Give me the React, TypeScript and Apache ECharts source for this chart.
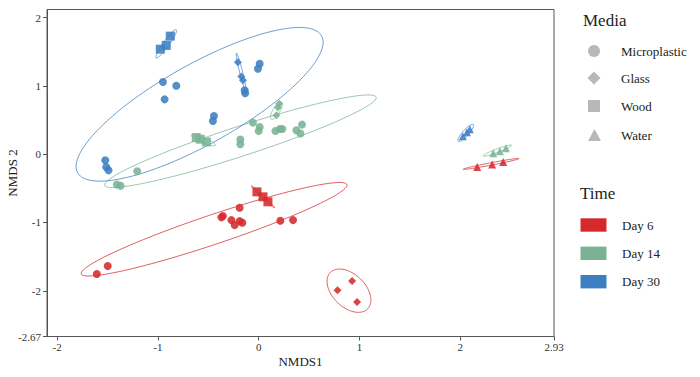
import React, { useEffect, useRef } from "react";
import * as echarts from "echarts";

// ---- axis ticks ----
const xTicks = [-2, -1, 0, 1, 2, 2.93];
const yTicks = [-2.67, -2, -1, 0, 1, 2];

// ---- legend ----
const mediaNames = ["Microplastic", "Glass", "Wood", "Water"];
const timeNames = ["Day 6", "Day 14", "Day 30"];
const timeColors = ["#d42a2e", "#7ab394", "#3c7fc0"];

// ---- points [NMDS1, NMDS2] ----
const day6Microplastic = [
  [-0.355, -0.906], [-0.37, -0.925], [-0.189, -0.785], [-0.271, -0.965], [-0.238, -1.038],
  [-0.189, -0.98], [-0.162, -1.004], [0.215, -0.975], [0.341, -0.965], [-1.497, -1.637], [-1.606, -1.754],
];
const day6Glass = [[0.927, -1.857], [0.782, -1.993], [0.976, -2.164]];
const day6Wood = [[-0.017, -0.551], [0.043, -0.624], [0.092, -0.697]];
const day6Water = [[2.168, -0.186], [2.317, -0.151], [2.426, -0.113]];

const day14Microplastic = [
  [-0.057, 0.463], [0.01, 0.399], [0.0, 0.341], [-0.182, 0.215], [-0.182, 0.146], [0.166, 0.341],
  [0.209, 0.37], [0.235, 0.37], [0.374, 0.351], [0.43, 0.434], [0.414, 0.303], [-1.205, -0.249],
  [-1.407, -0.443], [-1.37, -0.463],
];
const day14Glass = [[0.176, 0.57], [0.192, 0.683], [0.205, 0.74]];
const day14Wood = [[-0.619, 0.244], [-0.58, 0.22], [-0.519, 0.18]];
const day14Water = [[2.327, 0.015], [2.393, 0.044], [2.453, 0.088]];

const day30Microplastic = [
  [-0.95, 1.057], [-0.817, 1.004], [-0.933, 0.804], [0.01, 1.326], [-0.007, 1.253], [-0.139, 0.936],
  [-0.134, 0.892], [-0.444, 0.56], [-0.454, 0.487], [-1.522, -0.088], [-1.512, -0.186], [-1.49, -0.234],
];
const day30Glass = [[-0.206, 1.349], [-0.172, 1.14], [-0.156, 1.082]];
const day30Wood = [[-0.877, 1.73], [-0.917, 1.594], [-0.976, 1.539]];
const day30Water = [[2.026, 0.263], [2.066, 0.322], [2.095, 0.365]];

// ---- confidence ellipses [cx, cy, ux, uy, vx, vy] (data units) ----
const day6Ellipses = [
  [-0.442, -1.099, 1.318, 0.654, 0.0466, -0.204],
  [0.896, -1.999, 0.185, -0.2665, -0.1145, -0.1722],
  [0.043, -0.624, 0.1157, -0.1608, -0.0081, -0.0127],
  [2.306, -0.142, 0.2766, 0.0782, 0.0023, -0.0173],
];
const day14Ellipses = [
  [-0.181, 0.19, 1.347, 0.646, 0.0458, -0.207],
  [2.368, 0.053, 0.141, 0.0782, 0.0063, -0.0246],
  [0.176, 0.638, 0.0497, 0.1265, 0.0301, -0.0256],
  [-0.548, 0.205, 0.1207, -0.0731, -0.0094, -0.0338],
];
const day30Ellipses = [
  [-0.586, 0.731, 1.21, 1.004, 0.195, -0.509],
  [2.054, 0.312, 0.0745, 0.122, 0.0221, -0.0293],
  [-0.175, 1.208, 0.0462, -0.2727, -0.01445, -0.0053],
  [-0.917, 1.618, 0.0993, 0.2047, 0.0242, -0.0254],
];

const FONT = "Liberation Serif";
const GRAY = "#b8b8b8";

export default function App() {
  const ref = useRef<HTMLDivElement>(null);

  useEffect(() => {
    if (!ref.current) return;
    const chart = echarts.init(ref.current, undefined, { renderer: "svg" });

    const groups = [
      [day6Microplastic, day6Glass, day6Wood, day6Water],
      [day14Microplastic, day14Glass, day14Wood, day14Water],
      [day30Microplastic, day30Glass, day30Wood, day30Water],
    ];
    const ellipses = [day6Ellipses, day14Ellipses, day30Ellipses];
    const symbols = ["circle", "diamond", "rect", "triangle"];
    const sizes = [8, 8, 9, 8];

    const series: any[] = [];
    ellipses.forEach((ell, ti) => {
      series.push({
        type: "custom",
        name: timeNames[ti] + " ellipse",
        data: ell,
        dimensions: ["cx", "cy", "ux", "uy", "vx", "vy"],
        encode: { x: 0, y: 1 },
        silent: true,
        z: 1,
        renderItem: (params: any, api: any) => {
          const cx = api.value(0), cy = api.value(1);
          const ux = api.value(2), uy = api.value(3);
          const vx = api.value(4), vy = api.value(5);
          const pts: number[][] = [];
          const N = 120;
          for (let i = 0; i <= N; i++) {
            const t = (i / N) * Math.PI * 2;
            const c = Math.cos(t), s = Math.sin(t);
            pts.push(api.coord([cx + ux * c + vx * s, cy + uy * c + vy * s]));
          }
          return {
            type: "polygon",
            shape: { points: pts },
            style: { fill: "none", stroke: timeColors[ti], lineWidth: 1, opacity: 0.75 },
          };
        },
      });
    });
    groups.forEach((g, ti) => {
      g.forEach((pts, mi) => {
        series.push({
          type: "scatter",
          name: timeNames[ti] + " " + mediaNames[mi],
          data: pts,
          symbol: symbols[mi],
          symbolSize: sizes[mi],
          itemStyle: { color: timeColors[ti], opacity: 0.88 },
          z: 3,
        });
      });
    });

    const legendGraphics: any[] = [
      { type: "text", left: 583, top: 12, style: { text: "Media", font: `17px '${FONT}'`, fill: "#222" } },
      { type: "circle", shape: { cx: 594, cy: 51, r: 6 }, style: { fill: GRAY } },
      { type: "polygon", shape: { points: [[594, 71.5], [600.5, 78], [594, 84.5], [587.5, 78]] }, style: { fill: GRAY } },
      { type: "rect", shape: { x: 588, y: 100, width: 12, height: 12 }, style: { fill: GRAY } },
      { type: "polygon", shape: { points: [[594.5, 129], [601, 141], [588, 141]] }, style: { fill: GRAY } },
      { type: "text", left: 580, top: 185, style: { text: "Time", font: `17px '${FONT}'`, fill: "#222" } },
    ];
    const mediaY = [51, 78, 106, 135];
    mediaNames.forEach((n, i) => {
      legendGraphics.push({
        type: "text",
        x: 621,
        y: mediaY[i],
        style: { text: n, font: `13px '${FONT}'`, fill: "#222", verticalAlign: "middle" },
      });
    });
    const timeY = [225, 253.3, 281.7];
    timeNames.forEach((n, i) => {
      legendGraphics.push({
        type: "rect",
        shape: { x: 580.5, y: timeY[i] - 6.7, width: 26, height: 13.4 },
        style: { fill: timeColors[i] },
      });
      legendGraphics.push({
        type: "text",
        x: 622,
        y: timeY[i],
        style: { text: n, font: `13px '${FONT}'`, fill: "#222", verticalAlign: "middle" },
      });
    });

    chart.setOption({
      animation: false,
      backgroundColor: "#fff",
      grid: {
        left: 47,
        right: 146,
        top: 9.5,
        bottom: 40.5,
        containLabel: false,
        outerBoundsMode: "none",
        show: true,
        borderColor: "#555",
        borderWidth: 1,
        backgroundColor: "transparent",
      },
      xAxis: {
        type: "value",
        min: -2.1,
        max: 2.93,
        name: "NMDS1",
        nameLocation: "middle",
        nameGap: 18,
        nameMoveOverlap: false,
        nameTextStyle: { fontFamily: FONT, fontSize: 13, color: "#222" },
        axisLine: { show: true, onZero: false, lineStyle: { color: "#555", width: 1 } },
        axisTick: { show: true, length: 4, customValues: xTicks, lineStyle: { color: "#555" } },
        axisLabel: {
          customValues: xTicks,
          fontFamily: FONT,
          fontSize: 11,
          color: "#333",
          margin: 5,
          formatter: (v: number) => String(v),
        },
        splitLine: { show: false },
      },
      yAxis: {
        type: "value",
        min: -2.67,
        max: 2.12,
        name: "NMDS 2",
        nameLocation: "middle",
        nameGap: 28,
        nameMoveOverlap: false,
        nameTextStyle: { fontFamily: FONT, fontSize: 13, color: "#222" },
        axisLine: { show: true, onZero: false, lineStyle: { color: "#555", width: 1 } },
        axisTick: { show: true, length: 4, customValues: yTicks, lineStyle: { color: "#555" } },
        axisLabel: {
          customValues: yTicks,
          fontFamily: FONT,
          fontSize: 11,
          color: "#333",
          margin: 6,
          formatter: (v: number) => String(v),
        },
        splitLine: { show: false },
      },
      graphic: legendGraphics,
      series,
    });

    return () => chart.dispose();
  }, []);

  return (
    <div
      ref={ref}
      style={{ position: "fixed", left: 0, top: 0, width: 700, height: 377, background: "#fff" }}
    />
  );
}
